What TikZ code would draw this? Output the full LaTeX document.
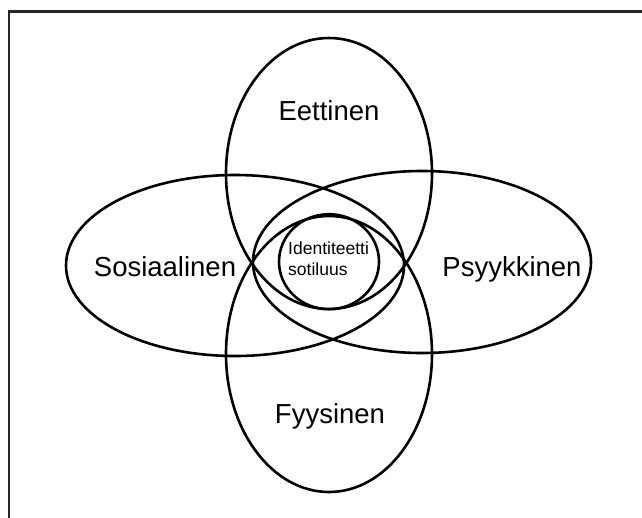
\documentclass[tikz,border=0pt]{standalone}
\usepackage{fontspec}
\setmainfont{Liberation Sans}
\begin{document}
\begin{tikzpicture}[x=1pt,y=-1pt,
  ring/.style={draw=black,line width=2.6pt},
  frameline/.style={draw=black!85,line width=2.6pt},
  biglabel/.style={font=\fontsize{27.5}{32}\selectfont,anchor=base,inner sep=0pt},
  smalllabel/.style={font=\fontsize{17.5}{21}\selectfont,anchor=base west,inner sep=0pt}]
  \useasboundingbox (0,0) rectangle (642,517);
  % outer frame, running off the right and bottom edges
  \draw[frameline] (8.8,520) -- (8.8,11.3) -- (645,11.3);
  % four overlapping ellipses
  \draw[ring] (329,173.5) ellipse [x radius=103pt, y radius=135.5pt];
  \draw[ring] (329,354) ellipse [x radius=103pt, y radius=138pt];
  \draw[ring] (235,265.5) ellipse [x radius=169pt, y radius=90.5pt];
  \draw[ring] (422,262) ellipse [x radius=169pt, y radius=91pt];
  % centre circle
  \draw[ring] (329,261.7) ellipse [x radius=50pt, y radius=47.5pt];
  % labels
  \node[biglabel] (eet) at (329,120) {Eettinen};
  \node[biglabel] (sos) at (165,276) {Sosiaalinen};
  \node[biglabel] (psy) at (512,276) {Psyykkinen};
  \node[biglabel] (fyy) at (330,423) {Fyysinen};
  \node[smalllabel] (ide) at (288,254) {Identiteetti};
  \node[smalllabel] (sot) at (288,275) {sotiluus};
\end{tikzpicture}
\end{document}
